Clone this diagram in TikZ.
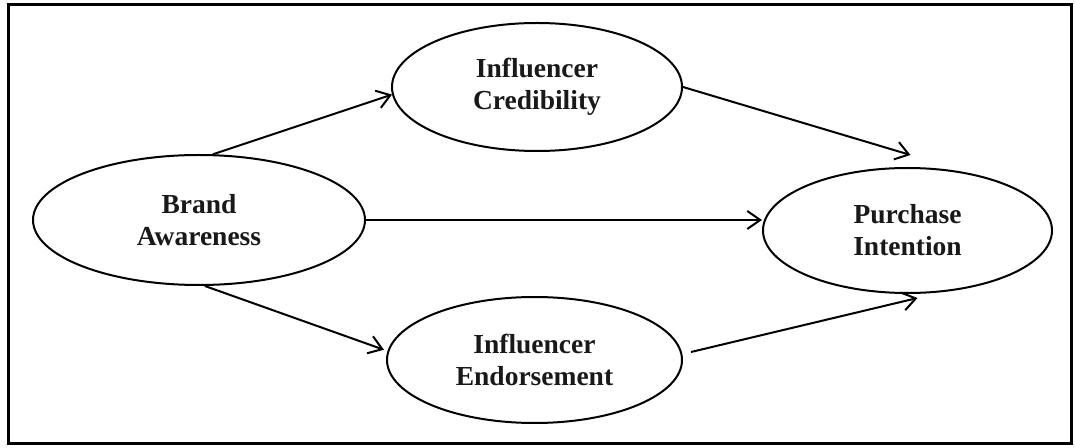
\documentclass[tikz,border=0pt]{standalone}
\usepackage{fontspec}
\setmainfont{Liberation Serif}
\usetikzlibrary{shapes.geometric,arrows.meta,calc}
\begin{document}
\begin{tikzpicture}[x=1pt,y=1pt,
  construct/.style={draw=black, line width=2pt, ellipse, inner sep=0pt, align=center,
    font=\fontsize{27.5}{32}\selectfont\bfseries, text=black!90},
  link/.style={draw=black, line width=2pt, -{Straight Barb[length=13pt,width=18pt,line width=2pt]}}]
\useasboundingbox (0,0) rectangle (1075,447);
\fill[white] (0,0) rectangle (1075,447);
\draw[line width=3pt] (8,442) rectangle (1071,4);
\node[construct, minimum width=332pt, minimum height=130pt] (B) at (199,227) {Brand\\Awareness};
\node[construct, minimum width=290pt, minimum height=128pt] (C) at (537,360) {Influencer\\Credibility};
\node[construct, minimum width=295pt, minimum height=126pt] (E) at (534.5,87) {Influencer\\Endorsement};
\node[construct, minimum width=289pt, minimum height=125pt] (P) at (907.5,216.5) {Purchase\\Intention};
\draw[link] (B.78) -- (C.183);
\draw[link] (C.east) -- ($(P.north)+(3,12)$);
\draw[link] (B.east) -- (B.east -| P.west);
\draw[link] (B.-85) -- ($(E.176)+(-4,0)$);
\draw[link] ($(E.east)+(8,8)$) -- ($(P.south)+(10,-4)$);
\end{tikzpicture}
\end{document}
